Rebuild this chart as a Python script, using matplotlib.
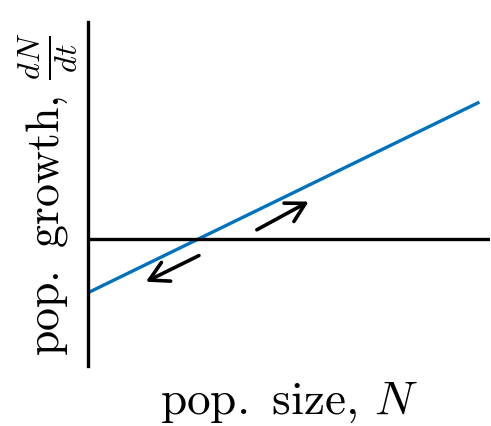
import matplotlib
matplotlib.use("Agg")
import matplotlib.pyplot as plt

plt.rcParams["font.family"] = "serif"
plt.rcParams["font.serif"] = ["cmr10"]
plt.rcParams["mathtext.fontset"] = "cm"
plt.rcParams["axes.formatter.use_mathtext"] = True

# population size and growth rate (linear relation)
N = [0.0, 9.7]
growth = [-1.57, 3.95]

# arrows showing direction of change: (start N, start growth, end N, end growth)
arrow_up = (4.20, 0.26, 5.49, 1.08)
arrow_down = (2.76, -0.49, 1.44, -1.25)

fig = plt.figure(figsize=(4.91, 4.26), dpi=100)
ax = fig.add_axes([88/491, 60/426, 402/491, 344/426])

ax.plot(N, growth, color="#0072BD", lw=2.4)
ax.axhline(0, color="black", lw=2.4)

for a in (arrow_up, arrow_down):
	ax.annotate("", xy=(a[2], a[3]), xytext=(a[0], a[1]),
		arrowprops=dict(arrowstyle="->,head_length=0.45,head_width=0.25", color="black",
			lw=2.6, mutation_scale=30, shrinkA=0, shrinkB=0))

ax.set_xlim(0, 10)
ax.set_ylim(-3.7, 6.3)
ax.set_xticks([])
ax.set_yticks([])
for s in ["top", "right", "bottom"]:
	ax.spines[s].set_visible(False)
ax.spines["left"].set_linewidth(2.4)

ax.set_xlabel(r"pop.$\,$ size, $N$", fontsize=34, labelpad=10)
ax.set_ylabel(r"pop.$\,$ growth, $\frac{dN}{dt}$", fontsize=33, labelpad=6)

fig.savefig("out.png", dpi=100)
